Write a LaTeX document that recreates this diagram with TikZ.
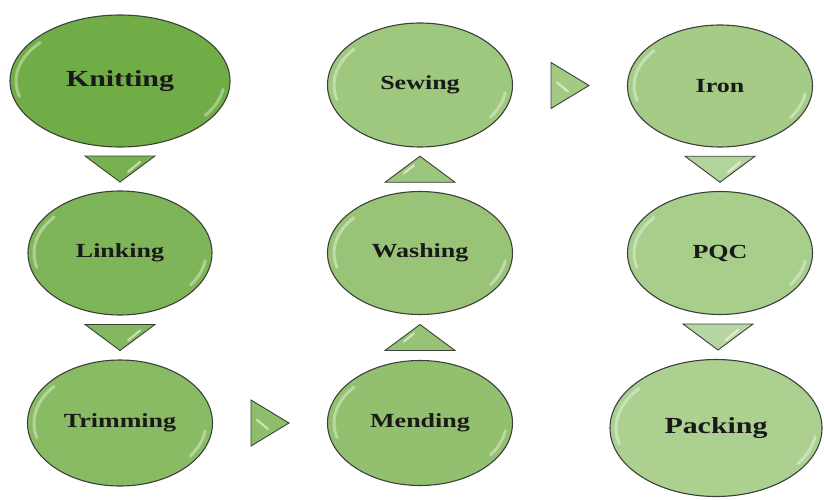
\documentclass[tikz,border=0pt]{standalone}
\usepackage{fontspec}
\newfontfamily\lblfont[FakeStretch=1.3]{Liberation Serif}
\usetikzlibrary{shapes.geometric,calc}
\definecolor{edge}{RGB}{60,64,58}
\definecolor{cA}{RGB}{112,173,71}
\definecolor{cB}{RGB}{127,181,89}
\definecolor{cC}{RGB}{136,187,100}
\definecolor{cD}{RGB}{146,192,111}
\definecolor{cE}{RGB}{153,196,120}
\definecolor{cF}{RGB}{159,200,127}
\definecolor{cG}{RGB}{165,204,135}
\definecolor{cH}{RGB}{168,206,140}
\definecolor{cI}{RGB}{171,208,144}
\definecolor{tA}{RGB}{120,178,80}
\definecolor{tB}{RGB}{131,184,94}
\definecolor{tC}{RGB}{141,190,105}
\definecolor{tD}{RGB}{150,195,117}
\definecolor{tE}{RGB}{156,198,124}
\definecolor{tF}{RGB}{162,202,131}
\definecolor{tG}{RGB}{180,212,158}
\definecolor{tH}{RGB}{184,214,163}
\tikzset{
  stage/.style={ellipse, draw=edge, line width=1.1pt, inner sep=0pt,
    font=\lblfont\bfseries\fontsize{20}{24}\selectfont, text=black!90},
  bigstage/.style={font=\lblfont\bfseries\fontsize{23}{27}\selectfont},
  tri/.style={draw=edge, line width=0.9pt, line join=miter},
  hl/.style={white, opacity=0.38, line width=3pt, line cap=round},
  thl/.style={white, opacity=0.55, line width=2.2pt, line cap=round}
}
\newcommand\gloss[3]{%
  \draw[hl] (#1.center) ++(165:{#2-6} and {#3-6})
    arc[start angle=165, end angle=220, x radius={#2-6}, y radius={#3-6}];
  \draw[hl] (#1.center) ++(8:{#2-6} and {#3-6})
    arc[start angle=8, end angle=35, x radius={#2-6}, y radius={#3-6}];
}
\newcommand\tridown[3]{%
  \path ($(#2.south)!0.5!(#3.north)$) coordinate (m);
  \draw[tri, fill=#1] ($(m)+(-35,-13)$) -- ($(m)+(35,-13)$) -- ($(m)+(0,13)$) -- cycle;
  \draw[thl] ($(m)+(20,-7)$) -- ($(m)+(8,3)$);
}
\newcommand\triup[3]{%
  \path ($(#2.north)!0.5!(#3.south)$) coordinate (m);
  \draw[tri, fill=#1] ($(m)+(-35,13)$) -- ($(m)+(35,13)$) -- ($(m)+(0,-13)$) -- cycle;
  \draw[thl] ($(m)+(-6,-4)$) -- ($(m)+(-16,4)$);
}
\newcommand\triright[3]{%
  \path ($(#2.east)!0.5!(#3.west)$) coordinate (m);
  \draw[tri, fill=#1] ($(m)+(-19,-23)$) -- ($(m)+(-19,23)$) -- ($(m)+(19,0)$) -- cycle;
  \draw[thl] ($(m)+(-13,-3)$) -- ($(m)+(-2,6)$);
}
\begin{document}
\begin{tikzpicture}[x=1pt, y=-1pt]
  \path[use as bounding box] (0,0) rectangle (824,500);
  % stages
  \node[stage, bigstage, fill=cA, minimum width=220pt, minimum height=132pt] (knit) at (120,81) {Knitting};
  \node[stage, fill=cB, minimum width=184pt, minimum height=124pt] (link) at (120,253) {Linking};
  \node[stage, fill=cC, minimum width=185pt, minimum height=126pt] (trim) at (120,423) {Trimming};
  \node[stage, fill=cD, minimum width=185pt, minimum height=125pt] (mend) at (420,423) {Mending};
  \node[stage, fill=cE, minimum width=185pt, minimum height=123pt] (wash) at (420,253) {Washing};
  \node[stage, fill=cF, minimum width=185pt, minimum height=124pt] (sew) at (420,85) {Sewing};
  \node[stage, fill=cG, minimum width=185pt, minimum height=122pt] (iron) at (720,86) {Iron};
  \node[stage, fill=cH, minimum width=185pt, minimum height=123pt] (pqc) at (720,253) {PQC};
  \node[stage, bigstage, fill=cI, minimum width=212pt, minimum height=137pt] (pack) at (716,428) {Packing};
  % gloss
  \gloss{knit}{110}{66}
  \gloss{link}{92}{62}
  \gloss{trim}{92}{63}
  \gloss{mend}{92}{62}
  \gloss{wash}{92}{61}
  \gloss{sew}{92}{62}
  \gloss{iron}{92}{61}
  \gloss{pqc}{92}{61}
  \gloss{pack}{106}{68}
  % connectors
  \tridown{tA}{knit}{link}
  \tridown{tB}{link}{trim}
  \triright{tC}{trim}{mend}
  \triup{tD}{mend}{wash}
  \triup{tE}{wash}{sew}
  \triright{tF}{sew}{iron}
  \tridown{tG}{iron}{pqc}
  \tridown{tH}{pqc}{pack}
\end{tikzpicture}
\end{document}
